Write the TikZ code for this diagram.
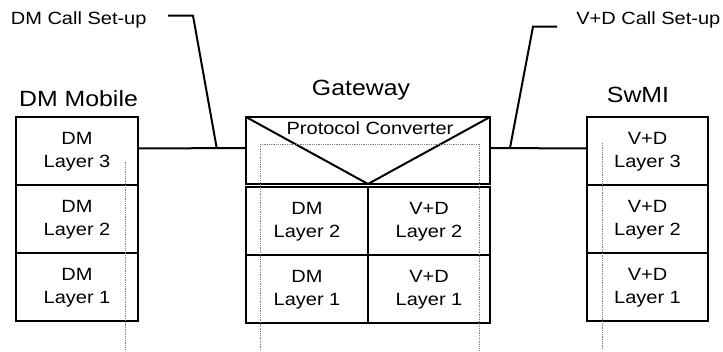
\documentclass[tikz,border=0pt]{standalone}
\usepackage{fontspec}
\setmainfont{Liberation Sans}[FakeStretch=1.13]
\usetikzlibrary{positioning}

\tikzset{
  layer/.style={draw, line width=2pt, outer sep=0pt, inner sep=0pt,
    minimum width=122pt, minimum height=68pt, align=center,
    font=\fontsize{17.7}{23.4}\selectfont},
  title/.style={anchor=base, inner sep=0pt, font=\fontsize{22}{26}\selectfont},
  lbl/.style={anchor=base, inner sep=0pt, font=\fontsize{17.7}{23.4}\selectfont},
  link/.style={line width=2pt},
  trace/.style={densely dotted, gray, line width=0.8pt}
}

\begin{document}
\begin{tikzpicture}[x=1pt, y=-1pt]
  \useasboundingbox (0,0) rectangle (723,352);
  % titles
  \node[title] (mobile) at (78.5,107) {DM Mobile};
  \node[title] (gateway) at (361,96) {Gateway};
  \node[title] (swmi) at (638,103) {SwMI};
  % DM mobile stack
  \node[layer] (dm3) at (77,151.5) {DM\\Layer 3};
  \node[layer, below=0pt of dm3] (dm2) {DM\\Layer 2};
  \node[layer, below=0pt of dm2] (dm1) {DM\\Layer 1};
  % gateway
  \node[draw, link, outer sep=0pt, minimum width=244pt, minimum height=67pt] (conv) at (368,150.5) {};
  \draw[link] (conv.north west) -- (conv.south) -- (conv.north east);
  \node[lbl] (convlbl) at (370,135) {Protocol Converter};
  \node[layer] (gdm2) at (307,221.5) {DM\\Layer 2};
  \node[layer, right=0pt of gdm2] (gvd2) {V+D\\Layer 2};
  \node[layer, below=0pt of gdm2] (gdm1) {DM\\Layer 1};
  \node[layer, below=0pt of gvd2] (gvd1) {V+D\\Layer 1};
  % SwMI stack
  \node[layer, minimum width=121pt] (vd3) at (647.5,151.5) {V+D\\Layer 3};
  \node[layer, minimum width=121pt, below=0pt of vd3] (vd2) {V+D\\Layer 2};
  \node[layer, minimum width=121pt, below=0pt of vd2] (vd1) {V+D\\Layer 1};
  % links
  \draw[link] ([yshift=3pt]dm3.east) -- ([yshift=2.5pt]conv.west);
  \draw[link] ([yshift=2.5pt]conv.east) -- ([yshift=3pt]vd3.west);
  % call set-up labels
  \node[lbl] (dmcall) at (78.7,25) {DM Call Set-up};
  \node[lbl] (vdcall) at (648.3,25) {V+D Call Set-up};
  \coordinate (dmknee) at (193,15.7);
  \coordinate (dmtap) at (216.7,148);
  \coordinate (vdknee) at (533,26.7);
  \coordinate (vdtap) at (510,148);
  \draw[link] ([xshift=-25pt]dmknee) -- (dmknee) -- (dmtap);
  \draw[link] ([xshift=24pt]vdknee) -- (vdknee) -- (vdtap);
  % dotted traces
  \draw[trace] (125,161.7) -- (125,350);
  \draw[trace] (260.7,350) -- (260.7,144) -- (479,144) -- (479,350);
  \draw[trace] (602.7,143) -- (602.7,350);
\end{tikzpicture}
\end{document}
